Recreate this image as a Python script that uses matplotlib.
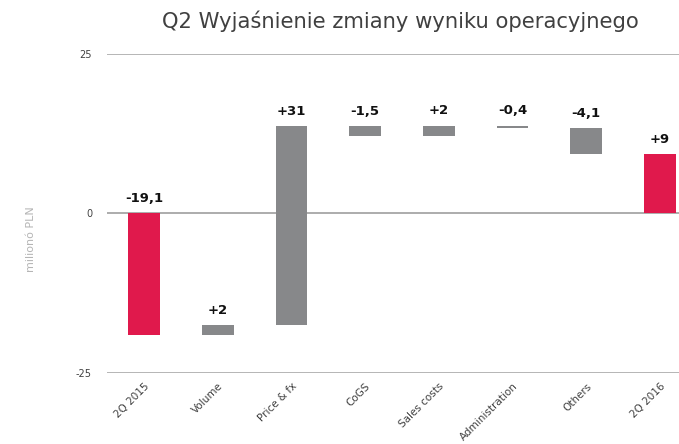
import matplotlib
matplotlib.use('Agg')
import matplotlib.pyplot as plt
import numpy as np

plt.rcParams['axes.unicode_minus'] = False

categories = ['2Q 2015', 'Volume', 'Price & fx', 'CoGS', 'Sales costs',
              'Administration', 'Others', '2Q 2016']
# first and last are totals, the rest are changes
start_value = -19.1
deltas = [1.5, 31.2, -1.5, 1.6, -0.4, -4.1]
end_value = 9.2
value_labels = ['-19,1', '+2', '+31', '-1,5', '+2', '-0,4', '-4,1', '+9']

red = '#e0194c'
grey = '#87888a'

fig = plt.figure(figsize=(6.79, 4.44), dpi=100)
ax = fig.add_axes([0.158, 0.1606, 0.842, 0.7189])

x = np.arange(len(categories))
cum = start_value + np.cumsum([0] + deltas)
bottoms = [0] + list(cum[:-1]) + [0]
heights = [start_value] + deltas + [end_value]
colors = [red] + [grey] * len(deltas) + [red]

ax.axhline(0, color='#9a9a9a', lw=1.3, zorder=0)
ax.bar(x, heights, bottom=bottoms, width=0.43, color=colors, zorder=2)

for i in range(len(categories)):
    top = max(bottoms[i], bottoms[i] + heights[i])
    ax.annotate(value_labels[i], (x[i], top), xytext=(0, 6),
                textcoords='offset points', ha='center', va='bottom',
                fontsize=9.5, fontweight='bold', color='#111111')

ax.set_ylim(-25, 25)
ax.set_xlim(-0.5, 7.26)
ax.set_yticks([-25, 0, 25])
ax.yaxis.grid(True, color='#b0b0b0', lw=1.3)
ax.set_axisbelow(True)
for s in ax.spines.values():
    s.set_visible(False)
ax.tick_params(axis='both', length=0, labelsize=7, labelcolor='#404040')
ax.tick_params(axis='y', pad=11)
ax.set_xticks(x)
ax.set_xticklabels(categories, rotation=45, ha='right', rotation_mode='anchor',
                   fontsize=7.5)
ax.tick_params(axis='x', pad=6)

ax.set_ylabel('milionó PLN', fontsize=8, color='#b5b5b5')
ax.yaxis.set_label_coords(-0.125, 0.42)

fig.text(0.589, 0.953, 'Q2 Wyjaśnienie zmiany wyniku operacyjnego',
         ha='center', va='center', fontsize=15.2, color='#404040')

fig.savefig('out.png', dpi=100)
